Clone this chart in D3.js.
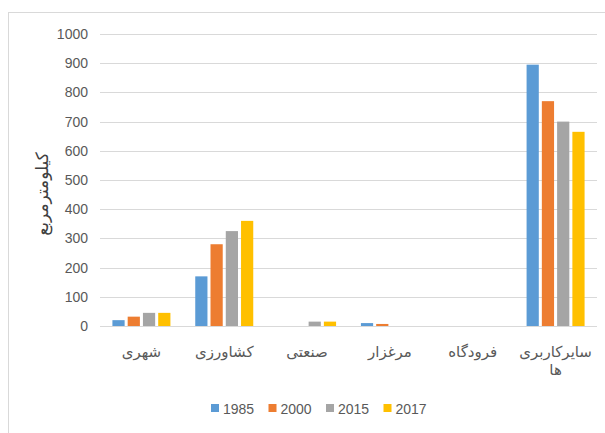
<!DOCTYPE html>
<html>
<head>
<meta charset="utf-8">
<script src="https://cdn.jsdelivr.net/npm/d3@7"></script>
<style>
  body { margin: 0; background: #fff; }
  svg text { font-family: "Liberation Sans", "DejaVu Sans", sans-serif; fill: #595959; }
</style>
</head>
<body>
<svg id="chart" width="605" height="433"></svg>
<script>
// categories (left to right as in the picture)
const categories = ["شهری", "کشاورزی", "صنعتی", "مرغزار", "فرودگاه", "سایرکاربری ها"];
const years = ["1985", "2000", "2015", "2017"];
const colors = ["#5B9BD5", "#ED7D31", "#A5A5A5", "#FFC000"];

// values per year, same order as categories
const v1985 = [20, 170, 0, 10, 0, 895];
const v2000 = [32, 280, 0, 7, 0, 770];
const v2015 = [45, 325, 15, 0, 0, 700];
const v2017 = [45, 360, 15, 0, 0, 665];
const series = [v1985, v2000, v2015, v2017];

const yTicks = [0, 100, 200, 300, 400, 500, 600, 700, 800, 900, 1000];

let svg = d3.select("#chart");

// outer chart border
svg.append("rect")
    .attr("x", 8.5).attr("y", 12.5)
    .attr("width", 605).attr("height", 440)
    .attr("fill", "none")
    .attr("stroke", "#d9d9d9");

let x0 = d3.scaleBand()
    .domain(categories)
    .range([100, 597]);

let x1 = d3.scaleBand()
    .domain(years)
    .range([-29, 29])
    .paddingInner(0.2);

let y = d3.scaleLinear()
    .domain([0, 1000])
    .range([326, 34]);

// gridlines
svg.append("g")
    .selectAll("line")
    .data(yTicks)
    .enter().append("line")
    .attr("x1", 100).attr("x2", 597)
    .attr("y1", d => Math.round(y(d)) + 0.5)
    .attr("y2", d => Math.round(y(d)) + 0.5)
    .attr("stroke", "#d9d9d9")
    .attr("stroke-width", 1);

// y tick labels
svg.append("g")
    .selectAll("text")
    .data(yTicks)
    .enter().append("text")
    .attr("x", 88)
    .attr("y", d => y(d) + 5)
    .attr("text-anchor", "end")
    .attr("font-size", "14px")
    .text(d => d);

// y axis title
svg.append("text")
    .attr("transform", "translate(48,194) rotate(-90)")
    .attr("text-anchor", "middle")
    .attr("font-size", "17px")
    .style("fill", "#404040")
    .text("کیلومترمربع");

// bars
let flat = [];
categories.forEach((c, i) => {
    years.forEach((yr, j) => {
        flat.push({cat: c, year: yr, value: series[j][i], color: colors[j]});
    });
});

svg.append("g")
    .selectAll("rect")
    .data(flat)
    .enter().append("rect")
    .attr("x", d => x0(d.cat) + x0.bandwidth() / 2 + x1(d.year))
    .attr("width", x1.bandwidth())
    .attr("y", d => y(d.value))
    .attr("height", d => y(0) - y(d.value))
    .attr("fill", d => d.color);

// category labels (last one wraps to two lines)
let catLabels = svg.append("g")
    .selectAll("text")
    .data(categories)
    .enter().append("text")
    .attr("x", d => x0(d) + x0.bandwidth() / 2)
    .attr("y", 357)
    .attr("text-anchor", "middle")
    .attr("font-size", "15px");

catLabels.each(function (d) {
    let parts = d.split(" ");
    let t = d3.select(this);
    parts.forEach((p, k) => {
        t.append("tspan")
            .attr("x", x0(d) + x0.bandwidth() / 2)
            .attr("dy", k == 0 ? 0 : 18)
            .text(p);
    });
});

// legend
let legend = svg.append("g")
    .selectAll("g")
    .data(years)
    .enter().append("g")
    .attr("transform", (d, i) => "translate(" + (211 + i * 57.5) + ",410)");

legend.append("rect")
    .attr("x", 0).attr("y", -6)
    .attr("width", 8).attr("height", 8)
    .attr("fill", (d, i) => colors[i]);

legend.append("text")
    .attr("x", 12)
    .attr("y", 4)
    .attr("font-size", "14px")
    .text(d => d);
</script>
</body>
</html>
